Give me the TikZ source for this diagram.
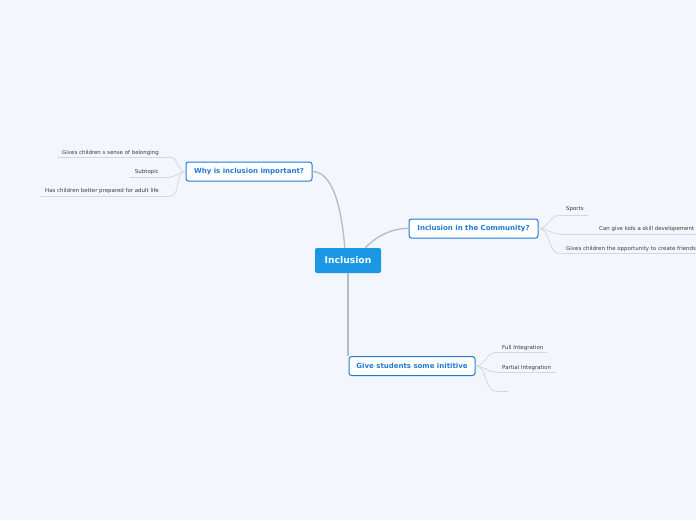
\documentclass[tikz,border=0pt]{standalone}
\usepackage{fontspec}
\setmainfont{DejaVu Sans}
\usetikzlibrary{positioning,calc}
\definecolor{paper}{HTML}{F3F6FD}
\definecolor{rootblue}{HTML}{1A98E6}
\definecolor{topicblue}{HTML}{1F7AD6}
\definecolor{branchgrey}{HTML}{B9BDC5}
\definecolor{twiggrey}{HTML}{D3D7DF}
\definecolor{leafink}{HTML}{3A3A3A}
\tikzset{
  rootnode/.style={fill=rootblue,text=white,rounded corners=2pt,font=\fontsize{9.2}{11}\selectfont\bfseries,
    minimum width=66pt,minimum height=25pt,inner sep=2pt},
  topic/.style={draw=topicblue,line width=1pt,fill=white,rounded corners=2.5pt,text=topicblue,
    font=\fontsize{7}{8}\selectfont\bfseries,minimum height=19pt,inner xsep=4pt},
  leaf/.style={text=leafink,font=\fontsize{5.45}{6.5}\selectfont,inner xsep=0pt,inner ysep=1pt},
  branch/.style={draw=branchgrey,line width=1.4pt},
  twig/.style={draw=twiggrey,line width=0.8pt},
}
\begin{document}
\begin{tikzpicture}[x=1pt,y=-1pt]
  \fill[paper] (0,0) rectangle (696,520);
  \useasboundingbox (0,0) rectangle (696,520);
  \clip (0,0) rectangle (696,520);
  % central idea
  \node[rootnode] (root) at (348,260.5) {Inclusion};
  % main topics
  \node[topic,minimum width=126pt] (why) at (249,171.5) {Why is inclusion important?};
  \node[topic,minimum width=129pt] (comm) at (473.5,228.5) {Inclusion in the Community?};
  \node[topic,minimum width=126pt] (give) at (412,366) {Give students some inititive};
  \draw[branch] (root.north west)+(30,0) coordinate (r1) (why.east) .. controls (335,172) and (342,215) .. (r1);
  \draw[branch] (root.north east)+(-16,0) coordinate (r2) (r2) .. controls (375,238) and (390,228) .. (comm.west);
  \draw[branch] (root.south) -- (root.south |- give.north west);

  % why is inclusion important
  \node[leaf,anchor=east] (w1) at (159,152.5) {Gives children s sense of belonging};
  \node[leaf,anchor=east] (w2) at (159,171.5) {Subtopic};
  \node[leaf,anchor=east] (w3) at (159,191) {Has children better prepared for adult life};
  \coordinate (w1e) at (170,157);
  \coordinate (w2e) at (170,177);
  \coordinate (w3e) at (170,196);
  \draw[twig] ($(w1.west |- w1e)+(-4,0)$) -- (w1e);
  \draw[twig] ($(w2.west |- w2e)+(-5,0)$) -- (w2e);
  \draw[twig] ($(w3.west |- w3e)+(-4,0)$) -- (w3e);
  \foreach \e in {w1e,w2e,w3e}
    \draw[twig] (why.west) to[out=180,in=0] (\e);

  % inclusion in the community
  \node[leaf,anchor=west] (c1) at (566,209.5) {Sports};
  \node[leaf,anchor=west] (c2) at (599,229) {Can give kids a skill developement};
  \node[leaf,anchor=west] (c3) at (566,248.5) {Gives children the opportunity to create friends};
  \coordinate (c1s) at (560,215);
  \coordinate (c2s) at (560,234);
  \coordinate (c3s) at (560,253.5);
  \draw[twig] (c1s) -- ($(c1.east |- c1s)+(4,0)$);
  \draw[twig] (c2s) -- ($(c2.east |- c2s)+(4,0)$);
  \draw[twig] (c3s) -- ($(c3.east |- c3s)+(4,0)$);
  \foreach \s in {c1s,c2s,c3s}
    \draw[twig] (comm.east) to[out=0,in=180] (\s);

  % give students some inititive
  \node[leaf,anchor=west] (g1) at (502,347.5) {Full Integration};
  \node[leaf,anchor=west] (g2) at (502,367.5) {Partial Integration};
  \coordinate (g1s) at (496,352.5);
  \coordinate (g2s) at (496,372);
  \coordinate (g3s) at (496,391);
  \coordinate (g3e) at (508,391);
  \draw[twig] (g1s) -- ($(g1.east |- g1s)+(4,0)$);
  \draw[twig] (g2s) -- ($(g2.east |- g2s)+(5,0)$);
  \draw[twig] (g3s) -- (g3e);
  \foreach \s in {g1s,g2s,g3s}
    \draw[twig] (give.east) to[out=0,in=180] (\s);
\end{tikzpicture}
\end{document}
